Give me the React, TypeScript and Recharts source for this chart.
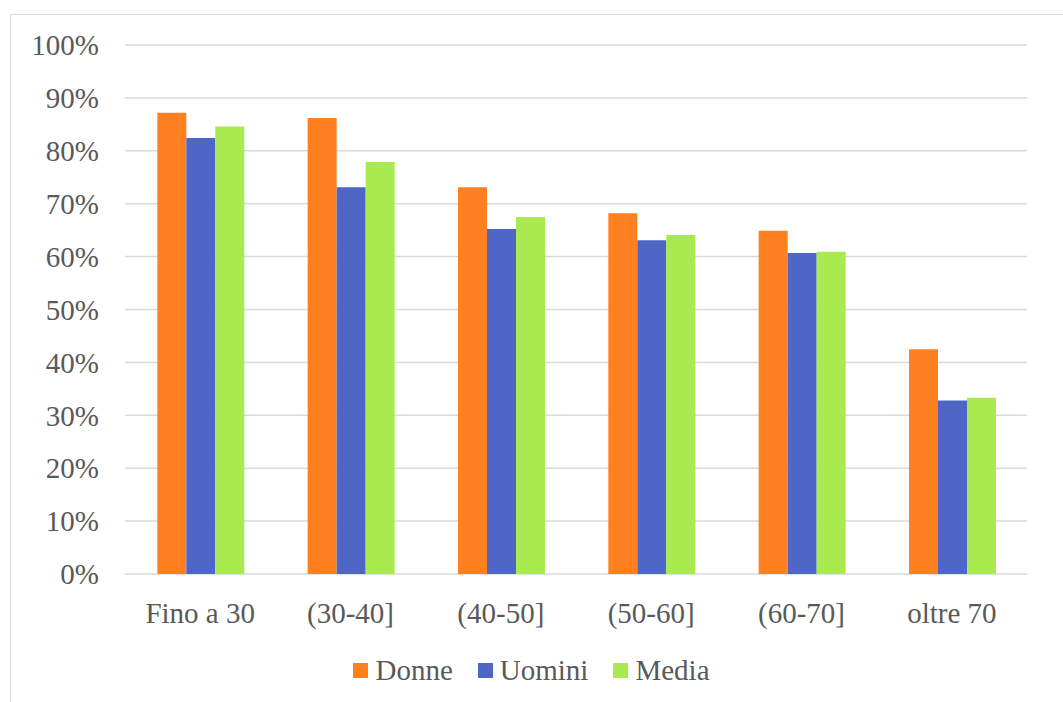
import React from 'react';
import { BarChart, Bar, XAxis, YAxis, CartesianGrid, Legend } from 'recharts';

const categories = ['Fino a 30', '(30-40]', '(40-50]', '(50-60]', '(60-70]', 'oltre 70'];
const donne = [87.2, 86.2, 73.1, 68.2, 64.9, 42.5];
const uomini = [82.4, 73.1, 65.2, 63.1, 60.7, 32.8];
const media = [84.6, 77.9, 67.5, 64.1, 60.9, 33.3];
const yTicks = [0, 10, 20, 30, 40, 50, 60, 70, 80, 90, 100];

const SERIES = [
  { key: 'Donne', color: '#FF8021' },
  { key: 'Uomini', color: '#4E67C6' },
  { key: 'Media', color: '#A9EA50' },
];

const FONT = '"Liberation Serif", "Times New Roman", serif';
const TEXT = '#595959';

const data = categories.map((name, i) => ({
  name,
  Donne: donne[i],
  Uomini: uomini[i],
  Media: media[i],
}));

const LegendBox = () => (
  <div
    style={{
      display: 'flex',
      justifyContent: 'center',
      alignItems: 'center',
      height: 30,
      fontFamily: FONT,
      fontSize: 29,
      color: TEXT,
    }}
  >
    {SERIES.map((s, i) => (
      <div key={s.key} style={{ display: 'flex', alignItems: 'center', marginLeft: i ? 25 : 0 }}>
        <span style={{ width: 15, height: 15, background: s.color, marginRight: 7, display: 'inline-block' }} />
        <span>{s.key}</span>
      </div>
    ))}
  </div>
);

export default function App() {
  return (
    <div style={{ position: 'fixed', left: 0, top: 0, width: 1063, height: 702, background: '#fff', overflow: 'hidden' }}>
      {/* chart frame, only left and top edges are visible in the picture */}
      <div
        style={{
          position: 'absolute',
          left: 10,
          top: 14,
          width: 1080,
          height: 720,
          borderLeft: '1.5px solid #d9d9d9',
          borderTop: '1.5px solid #d9d9d9',
        }}
      />
      <div style={{ position: 'absolute', left: 0, top: 0 }}>
        <BarChart
          width={1063}
          height={702}
          data={data}
          margin={{ top: 45, right: 36, left: 0, bottom: 68 }}
          barCategoryGap="21.5%"
          barGap={0}
        >
          <CartesianGrid vertical={false} stroke="#d9d9d9" strokeWidth={1.5} />
          <XAxis
            dataKey="name"
            axisLine={false}
            tickLine={false}
            tickSize={0}
            tickMargin={28}
            interval={0}
            tick={{ fill: TEXT, fontSize: 29, fontFamily: FONT }}
          />
          <YAxis
            width={125}
            domain={[0, 100]}
            ticks={yTicks}
            axisLine={false}
            tickLine={false}
            tickSize={0}
            tickMargin={26}
            tickFormatter={(v) => `${v}%`}
            tick={{ fill: TEXT, fontSize: 29, fontFamily: FONT }}
          />
          <Legend
            verticalAlign="bottom"
            height={30}
            content={() => <LegendBox />}
            wrapperStyle={{ top: 655, bottom: 'auto', left: 0, width: 1063 }}
          />
          {SERIES.map((s) => (
            <Bar key={s.key} dataKey={s.key} fill={s.color} isAnimationActive={false} />
          ))}
        </BarChart>
      </div>
    </div>
  );
}
